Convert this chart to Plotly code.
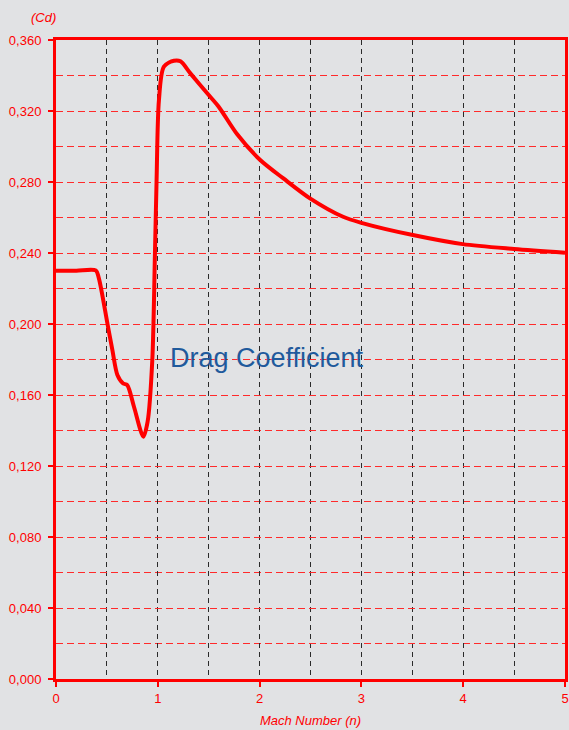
import plotly.graph_objects as go

mach = [0, 0.2, 0.39, 0.42, 0.506, 0.554, 0.603, 0.66, 0.70, 0.766, 0.858, 0.90,
        0.946, 0.972, 0.988, 1.011, 1.06, 1.158, 1.223, 1.32, 1.5, 1.598, 1.778,
        2.006, 2.234, 2.495, 2.82, 3.0, 3.506, 3.995, 4.5, 5.0]
cd = [0.230, 0.230, 0.2302, 0.226, 0.200, 0.1853, 0.1713, 0.1665, 0.1656, 0.1534,
      0.1365, 0.145, 0.1797, 0.2398, 0.281, 0.326, 0.345, 0.3483, 0.348, 0.3412,
      0.329, 0.3224, 0.307, 0.2924, 0.282, 0.2708, 0.2604, 0.257, 0.2501, 0.245,
      0.2423, 0.2402]

x_ticks = [0, 1, 2, 3, 4, 5]
y_ticks = [0.0, 0.04, 0.08, 0.12, 0.16, 0.20, 0.24, 0.28, 0.32, 0.36]

RED = "#ff0000"
BG = "#e1e2e4"
VGRID = "#2a2a2a"
HGRID = "#ff2a2a"

fig = go.Figure()
fig.add_trace(go.Scatter(
    x=mach, y=cd, mode="lines",
    line=dict(color=RED, width=4, shape="spline", smoothing=0.8),
    hoverinfo="skip", showlegend=False,
))

fig.add_annotation(
    x=2.07, y=0.181, xref="x", yref="y", text="Drag Coefficient", showarrow=False,
    font=dict(family="Liberation Sans Narrow, Arial Narrow, Liberation Sans, sans-serif",
              size=27, color="#1f5a9c"),
)
fig.add_annotation(
    x=-0.054, y=1.0, xref="paper", yref="paper", yanchor="bottom", yshift=13,
    text="<i>(Cd)</i>", showarrow=False, font=dict(size=13, color=RED),
)

fig.update_layout(
    width=569, height=730,
    margin=dict(l=56, r=0, t=40, b=51),
    paper_bgcolor=BG, plot_bgcolor=BG,
    separators=", ",
    font=dict(family="Liberation Sans, Arial, sans-serif", size=13, color=RED),
)

fig.update_xaxes(
    range=[0, 5], tickvals=x_ticks, ticktext=[str(v) for v in x_ticks],
    showline=True, linecolor=RED, linewidth=3, mirror=True,
    ticks="outside", ticklen=5, tickwidth=2, tickcolor=RED,
    showgrid=True, gridcolor=VGRID, gridwidth=1, griddash="5px,4px",
    minor=dict(dtick=0.5, tick0=0, showgrid=True, gridcolor=VGRID, gridwidth=1, griddash="5px,4px"),
    zeroline=False,
    title=dict(text="<i>Mach Number (n)</i>", font=dict(size=13, color=RED), standoff=12),
    tickfont=dict(size=13, color=RED),
    ticklabeloverflow="allow",
)
fig.update_yaxes(
    range=[0, 0.36], tickvals=y_ticks, tickformat=".3f",
    showline=True, linecolor=RED, linewidth=3, mirror=True,
    ticks="outside", ticklen=5, tickwidth=2, tickcolor=RED,
    showgrid=True, gridcolor=HGRID, gridwidth=1, griddash="7px,4px",
    minor=dict(dtick=0.02, tick0=0, showgrid=True, gridcolor=HGRID, gridwidth=1, griddash="7px,4px"),
    zeroline=False,
    tickfont=dict(size=13, color=RED),
    ticklabelstandoff=4,
)

fig.write_html(
    "out.html",
    config={"displayModeBar": False},
    post_script="document.body.style.margin='0';document.body.style.overflow='hidden';",
)
